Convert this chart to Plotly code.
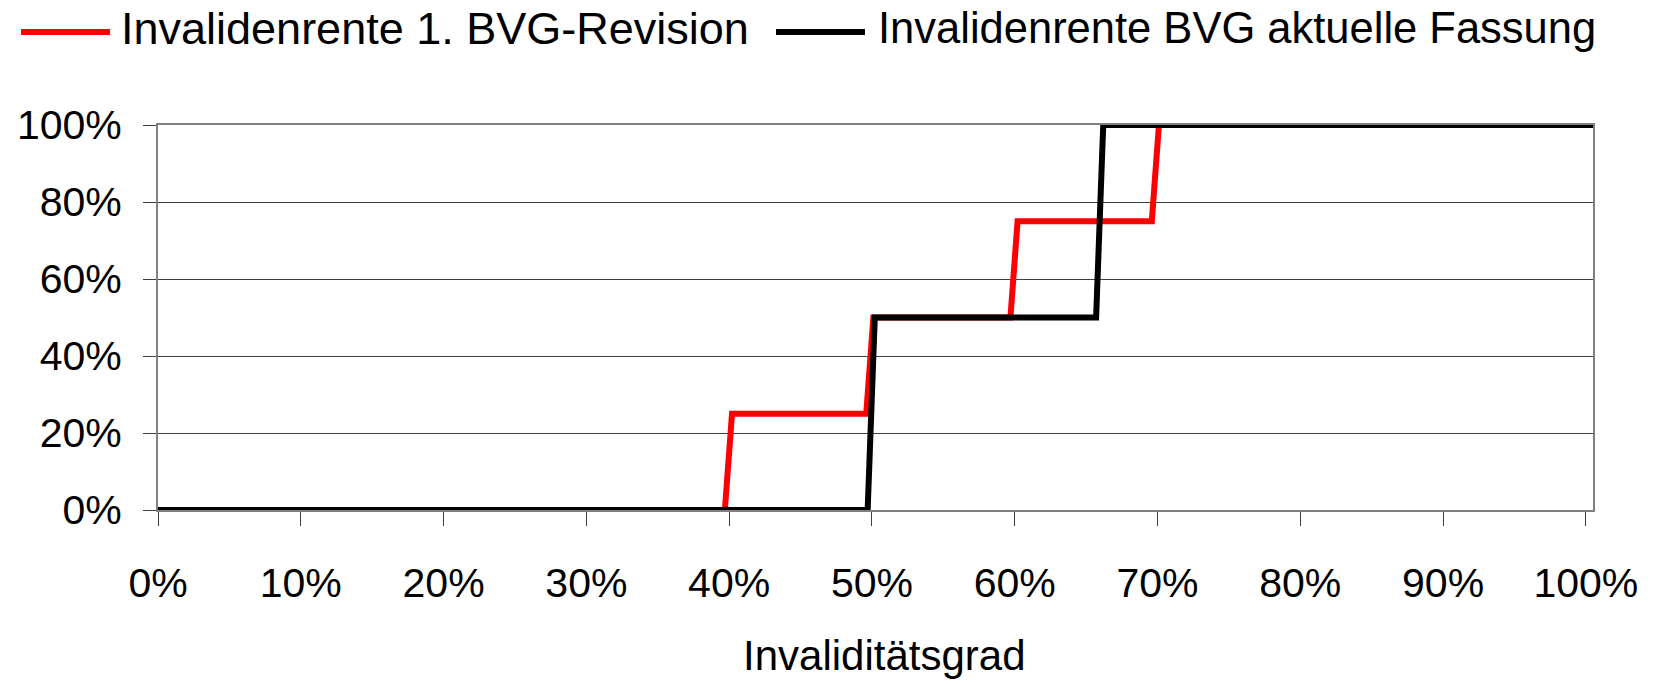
import plotly.graph_objects as go

# ---- data ----
series_names = ["Invalidenrente 1. BVG-Revision", "Invalidenrente BVG aktuelle Fassung"]
revision_x = [0, 39.7, 40.2, 49.6, 50.1, 59.7, 60.2, 69.6, 70.1, 100.5]
revision_y = [0, 0, 25, 25, 50, 50, 75, 75, 100, 100]
aktuell_x = [0, 49.7, 50.2, 65.7, 66.2, 100.5]
aktuell_y = [0, 0, 50, 50, 100, 100]
x_ticks = [0, 10, 20, 30, 40, 50, 60, 70, 80, 90, 100]
x_ticklabels = [f"{v}%" for v in x_ticks]
y_ticks = [0, 20, 40, 60, 80, 100]
y_ticklabels = [f"{v}%" for v in y_ticks]
x_title = "Invaliditätsgrad"
colors = ["#ff0000", "#000000"]

FONT = "Liberation Sans, Arial, sans-serif"
W, H = 1662, 684
ML, MR, MT, MB = 158, 69, 125, 174
PW, PH = W - ML - MR, H - MT - MB


def px_x(p):
    return (p - ML) / PW


def px_y(p):
    return (H - MB - p) / PH


fig = go.Figure()
fig.add_trace(go.Scatter(x=revision_x, y=revision_y, mode="lines", name=series_names[0],
                         line=dict(color=colors[0], width=6), showlegend=False))
fig.add_trace(go.Scatter(x=aktuell_x, y=aktuell_y, mode="lines", name=series_names[1],
                         line=dict(color=colors[1], width=6), showlegend=False))

# manual legend (Excel-like long line samples)
legend_items = [
    dict(line_x0=21, line_x1=110, text_x=119, name=series_names[0], color=colors[0], size=45),
    dict(line_x0=776, line_x1=865, text_x=876, name=series_names[1], color=colors[1], size=43.5),
]
for it in legend_items:
    fig.add_shape(type="line", xref="paper", yref="paper",
                  x0=px_x(it["line_x0"]), x1=px_x(it["line_x1"]),
                  y0=px_y(32), y1=px_y(32),
                  line=dict(color=it["color"], width=6))
    fig.add_annotation(xref="paper", yref="paper", x=px_x(it["text_x"]), y=px_y(28),
                       xanchor="left", yanchor="middle", showarrow=False,
                       text=it["name"], font=dict(family=FONT, size=it["size"], color="#000"))

# x-axis title
fig.add_annotation(xref="paper", yref="paper", x=px_x(884), y=px_y(655),
                   xanchor="center", yanchor="middle", showarrow=False,
                   text=x_title, font=dict(family=FONT, size=42, color="#000"))

fig.update_layout(
    width=W, height=H,
    margin=dict(l=ML, r=MR, t=MT, b=MB, autoexpand=False),
    paper_bgcolor="white", plot_bgcolor="white",
    font=dict(family=FONT, color="#000"),
    xaxis=dict(
        range=[0, 100.5], tickmode="array", tickvals=x_ticks, ticktext=x_ticklabels,
        showgrid=False, zeroline=False,
        showline=True, linecolor="#808080", linewidth=2, mirror=True,
        ticks="outside", ticklen=14, tickwidth=1, tickcolor="#404040",
        tickfont=dict(family=FONT, size=41, color="#000"), ticklabelstandoff=22,
        automargin=False,
    ),
    yaxis=dict(
        range=[0, 100], tickmode="array", tickvals=y_ticks, ticktext=y_ticklabels,
        showgrid=True, gridcolor="#404040", gridwidth=1, zeroline=False,
        showline=True, linecolor="#808080", linewidth=2, mirror=True,
        ticks="outside", ticklen=13, tickwidth=1, tickcolor="#404040",
        tickfont=dict(family=FONT, size=41, color="#000"), ticklabelstandoff=13,
        automargin=False,
    ),
)

fig.write_html("out.html")
